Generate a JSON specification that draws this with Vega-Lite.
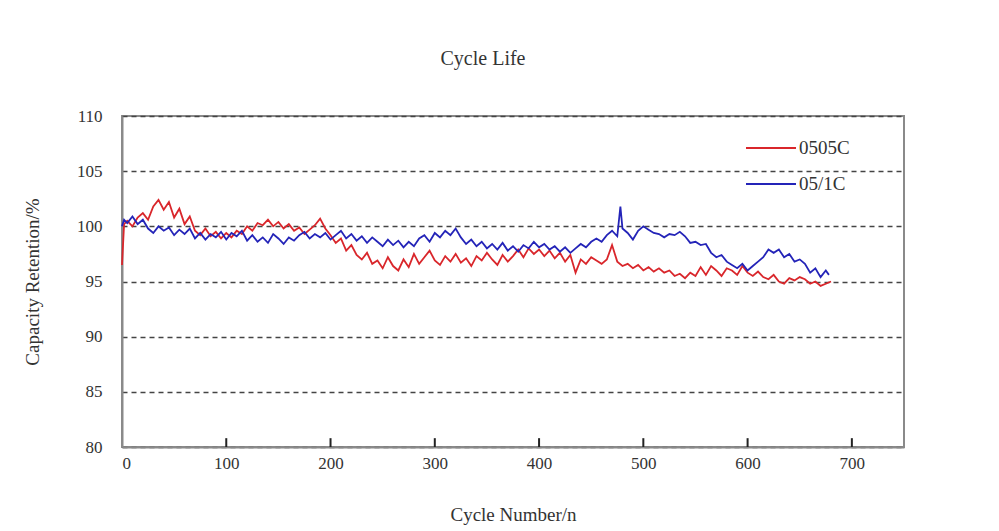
{
  "$schema": "https://vega.github.io/schema/vega-lite/v6.json",
  "width": 782,
  "height": 331,
  "autosize": {"type": "none"},
  "padding": {"left": 122, "top": 116, "right": 95, "bottom": 84},
  "background": "white",
  "title": {"text": "Cycle Life", "font": "Liberation Serif", "fontSize": 20, "fontWeight": "normal", "color": "#333", "offset": 38, "dx": -30},
  "config": {
    "view": {"stroke": "#8a8a8a", "strokeWidth": 2},
    "axis": {"labelFont": "Liberation Serif", "titleFont": "Liberation Serif", "labelColor": "#333", "titleColor": "#333", "labelFontSize": 17, "titleFontSize": 19, "titleFontWeight": "normal"}
  },
  "layer": [
    {
      "data": {"values": [
    {"cycle":0,"v":96.5,"s":"0505C"},{"cycle":2,"v":100.2,"s":"0505C"},{"cycle":5,"v":100.5,"s":"0505C"},{"cycle":10,"v":100.0,"s":"0505C"},{"cycle":15,"v":100.8,"s":"0505C"},{"cycle":20,"v":101.2,"s":"0505C"},{"cycle":25,"v":100.6,"s":"0505C"},{"cycle":30,"v":101.8,"s":"0505C"},{"cycle":35,"v":102.4,"s":"0505C"},{"cycle":40,"v":101.5,"s":"0505C"},{"cycle":45,"v":102.2,"s":"0505C"},{"cycle":50,"v":100.8,"s":"0505C"},{"cycle":55,"v":101.6,"s":"0505C"},{"cycle":60,"v":100.2,"s":"0505C"},{"cycle":65,"v":100.9,"s":"0505C"},{"cycle":70,"v":99.6,"s":"0505C"},{"cycle":75,"v":99.2,"s":"0505C"},{"cycle":80,"v":99.8,"s":"0505C"},{"cycle":85,"v":99.1,"s":"0505C"},{"cycle":90,"v":99.5,"s":"0505C"},{"cycle":95,"v":98.9,"s":"0505C"},{"cycle":100,"v":99.4,"s":"0505C"},{"cycle":105,"v":99.0,"s":"0505C"},{"cycle":110,"v":99.6,"s":"0505C"},{"cycle":115,"v":99.3,"s":"0505C"},{"cycle":120,"v":100.0,"s":"0505C"},{"cycle":125,"v":99.6,"s":"0505C"},{"cycle":130,"v":100.3,"s":"0505C"},{"cycle":135,"v":100.1,"s":"0505C"},{"cycle":140,"v":100.6,"s":"0505C"},{"cycle":145,"v":100.0,"s":"0505C"},{"cycle":150,"v":100.4,"s":"0505C"},{"cycle":155,"v":99.8,"s":"0505C"},{"cycle":160,"v":100.2,"s":"0505C"},{"cycle":165,"v":99.6,"s":"0505C"},{"cycle":170,"v":99.9,"s":"0505C"},{"cycle":175,"v":99.3,"s":"0505C"},{"cycle":180,"v":99.7,"s":"0505C"},{"cycle":185,"v":100.1,"s":"0505C"},{"cycle":190,"v":100.7,"s":"0505C"},{"cycle":195,"v":99.8,"s":"0505C"},{"cycle":200,"v":99.2,"s":"0505C"},{"cycle":205,"v":98.5,"s":"0505C"},{"cycle":210,"v":98.9,"s":"0505C"},{"cycle":215,"v":97.8,"s":"0505C"},{"cycle":220,"v":98.3,"s":"0505C"},{"cycle":225,"v":97.4,"s":"0505C"},{"cycle":230,"v":97.0,"s":"0505C"},{"cycle":235,"v":97.6,"s":"0505C"},{"cycle":240,"v":96.6,"s":"0505C"},{"cycle":245,"v":96.9,"s":"0505C"},{"cycle":250,"v":96.2,"s":"0505C"},{"cycle":255,"v":97.2,"s":"0505C"},{"cycle":260,"v":96.4,"s":"0505C"},{"cycle":265,"v":96.0,"s":"0505C"},{"cycle":270,"v":97.0,"s":"0505C"},{"cycle":275,"v":96.3,"s":"0505C"},{"cycle":280,"v":97.5,"s":"0505C"},{"cycle":285,"v":96.6,"s":"0505C"},{"cycle":290,"v":97.2,"s":"0505C"},{"cycle":295,"v":97.8,"s":"0505C"},{"cycle":300,"v":96.9,"s":"0505C"},{"cycle":305,"v":96.5,"s":"0505C"},{"cycle":310,"v":97.3,"s":"0505C"},{"cycle":315,"v":96.8,"s":"0505C"},{"cycle":320,"v":97.5,"s":"0505C"},{"cycle":325,"v":96.7,"s":"0505C"},{"cycle":330,"v":97.1,"s":"0505C"},{"cycle":335,"v":96.4,"s":"0505C"},{"cycle":340,"v":97.3,"s":"0505C"},{"cycle":345,"v":96.9,"s":"0505C"},{"cycle":350,"v":97.6,"s":"0505C"},{"cycle":355,"v":97.0,"s":"0505C"},{"cycle":360,"v":96.5,"s":"0505C"},{"cycle":365,"v":97.4,"s":"0505C"},{"cycle":370,"v":96.8,"s":"0505C"},{"cycle":375,"v":97.3,"s":"0505C"},{"cycle":380,"v":97.9,"s":"0505C"},{"cycle":385,"v":97.2,"s":"0505C"},{"cycle":390,"v":98.0,"s":"0505C"},{"cycle":395,"v":97.5,"s":"0505C"},{"cycle":400,"v":97.9,"s":"0505C"},{"cycle":405,"v":97.3,"s":"0505C"},{"cycle":410,"v":97.8,"s":"0505C"},{"cycle":415,"v":97.1,"s":"0505C"},{"cycle":420,"v":97.6,"s":"0505C"},{"cycle":425,"v":96.8,"s":"0505C"},{"cycle":430,"v":97.4,"s":"0505C"},{"cycle":435,"v":95.8,"s":"0505C"},{"cycle":440,"v":97.0,"s":"0505C"},{"cycle":445,"v":96.6,"s":"0505C"},{"cycle":450,"v":97.2,"s":"0505C"},{"cycle":455,"v":96.9,"s":"0505C"},{"cycle":460,"v":96.6,"s":"0505C"},{"cycle":465,"v":97.0,"s":"0505C"},{"cycle":470,"v":98.3,"s":"0505C"},{"cycle":475,"v":96.8,"s":"0505C"},{"cycle":480,"v":96.4,"s":"0505C"},{"cycle":485,"v":96.6,"s":"0505C"},{"cycle":490,"v":96.2,"s":"0505C"},{"cycle":495,"v":96.5,"s":"0505C"},{"cycle":500,"v":96.0,"s":"0505C"},{"cycle":505,"v":96.3,"s":"0505C"},{"cycle":510,"v":95.9,"s":"0505C"},{"cycle":515,"v":96.2,"s":"0505C"},{"cycle":520,"v":95.8,"s":"0505C"},{"cycle":525,"v":96.0,"s":"0505C"},{"cycle":530,"v":95.5,"s":"0505C"},{"cycle":535,"v":95.7,"s":"0505C"},{"cycle":540,"v":95.3,"s":"0505C"},{"cycle":545,"v":95.8,"s":"0505C"},{"cycle":550,"v":95.5,"s":"0505C"},{"cycle":555,"v":96.3,"s":"0505C"},{"cycle":560,"v":95.6,"s":"0505C"},{"cycle":565,"v":96.4,"s":"0505C"},{"cycle":570,"v":96.0,"s":"0505C"},{"cycle":575,"v":95.5,"s":"0505C"},{"cycle":580,"v":96.2,"s":"0505C"},{"cycle":585,"v":96.0,"s":"0505C"},{"cycle":590,"v":95.6,"s":"0505C"},{"cycle":595,"v":96.4,"s":"0505C"},{"cycle":600,"v":95.8,"s":"0505C"},{"cycle":605,"v":95.5,"s":"0505C"},{"cycle":610,"v":95.9,"s":"0505C"},{"cycle":615,"v":95.4,"s":"0505C"},{"cycle":620,"v":95.2,"s":"0505C"},{"cycle":625,"v":95.6,"s":"0505C"},{"cycle":630,"v":95.0,"s":"0505C"},{"cycle":635,"v":94.8,"s":"0505C"},{"cycle":640,"v":95.3,"s":"0505C"},{"cycle":645,"v":95.1,"s":"0505C"},{"cycle":650,"v":95.4,"s":"0505C"},{"cycle":655,"v":95.2,"s":"0505C"},{"cycle":660,"v":94.8,"s":"0505C"},{"cycle":665,"v":95.0,"s":"0505C"},{"cycle":670,"v":94.6,"s":"0505C"},{"cycle":675,"v":94.8,"s":"0505C"},{"cycle":680,"v":95.0,"s":"0505C"},
    {"cycle":0,"v":100.0,"s":"05/1C"},{"cycle":2,"v":100.6,"s":"05/1C"},{"cycle":5,"v":100.3,"s":"05/1C"},{"cycle":10,"v":100.9,"s":"05/1C"},{"cycle":15,"v":100.2,"s":"05/1C"},{"cycle":20,"v":100.6,"s":"05/1C"},{"cycle":25,"v":99.8,"s":"05/1C"},{"cycle":30,"v":99.4,"s":"05/1C"},{"cycle":35,"v":100.0,"s":"05/1C"},{"cycle":40,"v":99.6,"s":"05/1C"},{"cycle":45,"v":99.9,"s":"05/1C"},{"cycle":50,"v":99.2,"s":"05/1C"},{"cycle":55,"v":99.7,"s":"05/1C"},{"cycle":60,"v":99.3,"s":"05/1C"},{"cycle":65,"v":99.8,"s":"05/1C"},{"cycle":70,"v":98.9,"s":"05/1C"},{"cycle":75,"v":99.4,"s":"05/1C"},{"cycle":80,"v":98.8,"s":"05/1C"},{"cycle":85,"v":99.3,"s":"05/1C"},{"cycle":90,"v":99.0,"s":"05/1C"},{"cycle":95,"v":99.5,"s":"05/1C"},{"cycle":100,"v":98.8,"s":"05/1C"},{"cycle":105,"v":99.4,"s":"05/1C"},{"cycle":110,"v":99.1,"s":"05/1C"},{"cycle":115,"v":99.6,"s":"05/1C"},{"cycle":120,"v":98.7,"s":"05/1C"},{"cycle":125,"v":99.2,"s":"05/1C"},{"cycle":130,"v":98.6,"s":"05/1C"},{"cycle":135,"v":99.0,"s":"05/1C"},{"cycle":140,"v":98.5,"s":"05/1C"},{"cycle":145,"v":99.3,"s":"05/1C"},{"cycle":150,"v":98.9,"s":"05/1C"},{"cycle":155,"v":98.4,"s":"05/1C"},{"cycle":160,"v":99.0,"s":"05/1C"},{"cycle":165,"v":98.7,"s":"05/1C"},{"cycle":170,"v":99.2,"s":"05/1C"},{"cycle":175,"v":99.5,"s":"05/1C"},{"cycle":180,"v":98.9,"s":"05/1C"},{"cycle":185,"v":99.3,"s":"05/1C"},{"cycle":190,"v":99.0,"s":"05/1C"},{"cycle":195,"v":99.4,"s":"05/1C"},{"cycle":200,"v":98.8,"s":"05/1C"},{"cycle":205,"v":99.2,"s":"05/1C"},{"cycle":210,"v":99.6,"s":"05/1C"},{"cycle":215,"v":98.9,"s":"05/1C"},{"cycle":220,"v":99.3,"s":"05/1C"},{"cycle":225,"v":98.7,"s":"05/1C"},{"cycle":230,"v":99.1,"s":"05/1C"},{"cycle":235,"v":98.5,"s":"05/1C"},{"cycle":240,"v":99.0,"s":"05/1C"},{"cycle":245,"v":98.6,"s":"05/1C"},{"cycle":250,"v":98.2,"s":"05/1C"},{"cycle":255,"v":98.8,"s":"05/1C"},{"cycle":260,"v":98.3,"s":"05/1C"},{"cycle":265,"v":98.7,"s":"05/1C"},{"cycle":270,"v":98.1,"s":"05/1C"},{"cycle":275,"v":98.6,"s":"05/1C"},{"cycle":280,"v":98.2,"s":"05/1C"},{"cycle":285,"v":98.9,"s":"05/1C"},{"cycle":290,"v":99.2,"s":"05/1C"},{"cycle":295,"v":98.6,"s":"05/1C"},{"cycle":300,"v":99.4,"s":"05/1C"},{"cycle":305,"v":99.0,"s":"05/1C"},{"cycle":310,"v":99.6,"s":"05/1C"},{"cycle":315,"v":99.2,"s":"05/1C"},{"cycle":320,"v":99.8,"s":"05/1C"},{"cycle":325,"v":99.0,"s":"05/1C"},{"cycle":330,"v":98.4,"s":"05/1C"},{"cycle":335,"v":98.8,"s":"05/1C"},{"cycle":340,"v":98.2,"s":"05/1C"},{"cycle":345,"v":98.6,"s":"05/1C"},{"cycle":350,"v":98.0,"s":"05/1C"},{"cycle":355,"v":98.4,"s":"05/1C"},{"cycle":360,"v":97.9,"s":"05/1C"},{"cycle":365,"v":98.5,"s":"05/1C"},{"cycle":370,"v":97.8,"s":"05/1C"},{"cycle":375,"v":98.2,"s":"05/1C"},{"cycle":380,"v":97.7,"s":"05/1C"},{"cycle":385,"v":98.3,"s":"05/1C"},{"cycle":390,"v":98.0,"s":"05/1C"},{"cycle":395,"v":98.6,"s":"05/1C"},{"cycle":400,"v":98.1,"s":"05/1C"},{"cycle":405,"v":98.4,"s":"05/1C"},{"cycle":410,"v":97.9,"s":"05/1C"},{"cycle":415,"v":98.2,"s":"05/1C"},{"cycle":420,"v":97.7,"s":"05/1C"},{"cycle":425,"v":98.1,"s":"05/1C"},{"cycle":430,"v":97.6,"s":"05/1C"},{"cycle":435,"v":98.0,"s":"05/1C"},{"cycle":440,"v":98.4,"s":"05/1C"},{"cycle":445,"v":98.1,"s":"05/1C"},{"cycle":450,"v":98.6,"s":"05/1C"},{"cycle":455,"v":98.9,"s":"05/1C"},{"cycle":460,"v":98.6,"s":"05/1C"},{"cycle":465,"v":99.2,"s":"05/1C"},{"cycle":470,"v":99.6,"s":"05/1C"},{"cycle":475,"v":99.1,"s":"05/1C"},{"cycle":478,"v":101.8,"s":"05/1C"},{"cycle":480,"v":99.8,"s":"05/1C"},{"cycle":485,"v":99.4,"s":"05/1C"},{"cycle":490,"v":98.8,"s":"05/1C"},{"cycle":495,"v":99.6,"s":"05/1C"},{"cycle":500,"v":100.0,"s":"05/1C"},{"cycle":505,"v":99.7,"s":"05/1C"},{"cycle":510,"v":99.4,"s":"05/1C"},{"cycle":515,"v":99.3,"s":"05/1C"},{"cycle":520,"v":99.0,"s":"05/1C"},{"cycle":525,"v":99.3,"s":"05/1C"},{"cycle":530,"v":99.2,"s":"05/1C"},{"cycle":535,"v":99.5,"s":"05/1C"},{"cycle":540,"v":99.1,"s":"05/1C"},{"cycle":545,"v":98.5,"s":"05/1C"},{"cycle":550,"v":98.6,"s":"05/1C"},{"cycle":555,"v":98.3,"s":"05/1C"},{"cycle":560,"v":98.4,"s":"05/1C"},{"cycle":565,"v":97.6,"s":"05/1C"},{"cycle":570,"v":97.2,"s":"05/1C"},{"cycle":575,"v":97.4,"s":"05/1C"},{"cycle":580,"v":96.8,"s":"05/1C"},{"cycle":585,"v":96.5,"s":"05/1C"},{"cycle":590,"v":96.2,"s":"05/1C"},{"cycle":595,"v":96.6,"s":"05/1C"},{"cycle":600,"v":96.0,"s":"05/1C"},{"cycle":605,"v":96.4,"s":"05/1C"},{"cycle":610,"v":96.8,"s":"05/1C"},{"cycle":615,"v":97.2,"s":"05/1C"},{"cycle":620,"v":97.9,"s":"05/1C"},{"cycle":625,"v":97.6,"s":"05/1C"},{"cycle":630,"v":97.9,"s":"05/1C"},{"cycle":635,"v":97.2,"s":"05/1C"},{"cycle":640,"v":97.5,"s":"05/1C"},{"cycle":645,"v":96.8,"s":"05/1C"},{"cycle":650,"v":97.0,"s":"05/1C"},{"cycle":655,"v":96.6,"s":"05/1C"},{"cycle":660,"v":95.8,"s":"05/1C"},{"cycle":665,"v":96.2,"s":"05/1C"},{"cycle":670,"v":95.4,"s":"05/1C"},{"cycle":675,"v":96.0,"s":"05/1C"},{"cycle":678,"v":95.6,"s":"05/1C"}
      ]},
      "mark": {"type": "line", "strokeWidth": 1.8},
      "encoding": {
        "x": {"field": "cycle", "type": "quantitative", "scale": {"domain": [0, 750], "nice": false},
          "axis": {"title": "Cycle Number/n", "values": [0,100,200,300,400,500,600,700], "grid": false, "domainColor": "#8a8a8a", "domainWidth": 2, "ticks": false, "labelPadding": 8, "titlePadding": 34}},
        "y": {"field": "v", "type": "quantitative", "scale": {"domain": [80, 110], "nice": false},
          "axis": {"title": "Capacity Retention/%", "values": [80,85,90,95,100,105,110], "gridValues": [85,90,95,100,105], "grid": true, "gridColor": "#444", "gridDash": [5,4], "gridWidth": 1.3, "ticks": false, "domainColor": "#8a8a8a", "domainWidth": 2, "labelPadding": 20, "titlePadding": 34}},
        "color": {"field": "s", "type": "nominal", "sort": ["0505C", "05/1C"],
          "scale": {"domain": ["0505C", "05/1C"], "range": ["#d9262b", "#2424b8"]},
          "legend": {"title": null, "orient": "none", "legendX": 623, "legendY": 6, "symbolType": "stroke", "symbolSize": 2500, "symbolStrokeWidth": 2, "labelFont": "Liberation Serif", "labelFontSize": 19, "labelColor": "#333", "labelOffset": 2, "rowPadding": -30}}
      }
    },
    {
      "data": {"values": [{"t":100},{"t":200},{"t":300},{"t":400},{"t":500},{"t":600},{"t":700}]},
      "mark": {"type": "rule", "color": "#222", "strokeWidth": 2},
      "encoding": {
        "x": {"field": "t", "type": "quantitative"},
        "y": {"datum": 80},
        "y2": {"datum": 80.8}
      }
    }
  ]
}
